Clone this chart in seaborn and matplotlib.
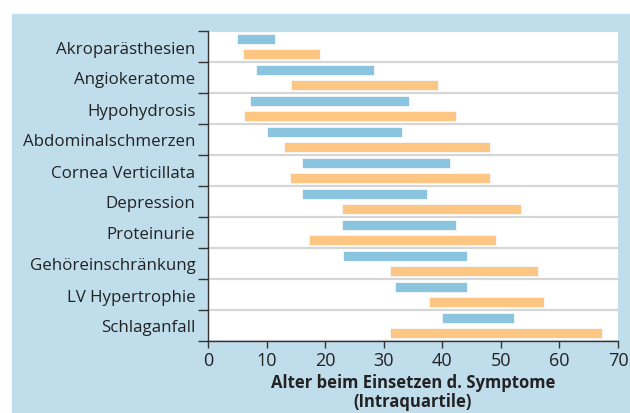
import numpy as np
import pandas as pd
import matplotlib.pyplot as plt
import seaborn as sns
from matplotlib.patches import Rectangle

symptoms = ['Akroparästhesien', 'Angiokeratome', 'Hypohydrosis', 'Abdominalschmerzen',
            'Cornea Verticillata', 'Depression', 'Proteinurie', 'Gehöreinschränkung',
            'LV Hypertrophie', 'Schlaganfall']
blue_start = [5.0, 8.2, 7.1, 10.0, 16.0, 16.0, 22.9, 23.0, 31.9, 40.0]
blue_end = [11.4, 28.3, 34.3, 33.2, 41.3, 37.4, 42.3, 44.2, 44.3, 52.2]
orange_start = [5.9, 14.1, 6.1, 13.0, 14.0, 22.9, 17.2, 31.1, 37.8, 31.1]
orange_end = [19.1, 39.2, 42.3, 48.2, 48.2, 53.4, 49.2, 56.3, 57.4, 67.3]
groups = ['Gruppe 1', 'Gruppe 2']
colors = ['#8bc4de', '#fdc683']

df = pd.DataFrame({
    'symptom': symptoms * 2,
    'gruppe': [groups[0]] * len(symptoms) + [groups[1]] * len(symptoms),
    'start': blue_start + orange_start,
    'ende': blue_end + orange_end,
})

sns.set_theme(style='white')
plt.rcParams['font.family'] = ['Open Sans', 'DejaVu Sans']

fig = plt.figure(figsize=(6.3, 4.14), dpi=100)
fig.add_artist(Rectangle((12 / 630, 0), 1, 399 / 414, transform=fig.transFigure,
                         color='#c0ddec', zorder=0))
ax = fig.add_axes([208 / 630, 72 / 414, 410 / 630, 310 / 414])
ax.set_facecolor('white')

sns.barplot(data=df, x='ende', y='symptom', hue='gruppe', hue_order=groups,
            order=symptoms, palette=colors, dodge=True, width=0.96, gap=0.3,
            errorbar=None, legend=False, ax=ax,
            edgecolor='#f4f8fa', linewidth=0.6, saturation=1)

# floating bars: move the left edge of each bar to the start value
for cont, grp in zip(ax.containers, groups):
    starts = df.loc[df['gruppe'] == grp].set_index('symptom').loc[symptoms, 'start']
    for bar, s in zip(cont, starts):
        end = bar.get_width()
        bar.set_x(s)
        bar.set_width(end - s)

ax.set_xlim(0, 70)
ax.set_ylim(9.5, -0.5)
ax.set_xticks(range(0, 71, 10))
ax.set_yticks(np.arange(-0.5, 10, 1), labels=[])
ax.set_yticks(range(10), labels=symptoms, minor=True)
ax.tick_params(axis='y', which='major', length=7, width=1, color='#333333', left=True)
ax.tick_params(axis='y', which='minor', length=0, pad=9, labelsize=12.2, labelcolor='#222222')
ax.tick_params(axis='x', length=5, width=1, color='#333333', bottom=True,
               labelsize=13, labelcolor='#222222', pad=2)
ax.grid(axis='y', which='major', color='#d6d6d6', lw=1.6)
ax.grid(axis='x', visible=False)
ax.set_axisbelow(True)
for s in ['top', 'right']:
    ax.spines[s].set_visible(False)
for s in ['left', 'bottom']:
    ax.spines[s].set_color('#333333')
    ax.spines[s].set_linewidth(1)
ax.set_ylabel('')
ax.set_xlabel('Alter beim Einsetzen d. Symptome\n(Intraquartile)', fontsize=12,
              fontweight='bold', color='#222222', labelpad=3, linespacing=1.1)

plt.savefig('out.png', dpi=100)
